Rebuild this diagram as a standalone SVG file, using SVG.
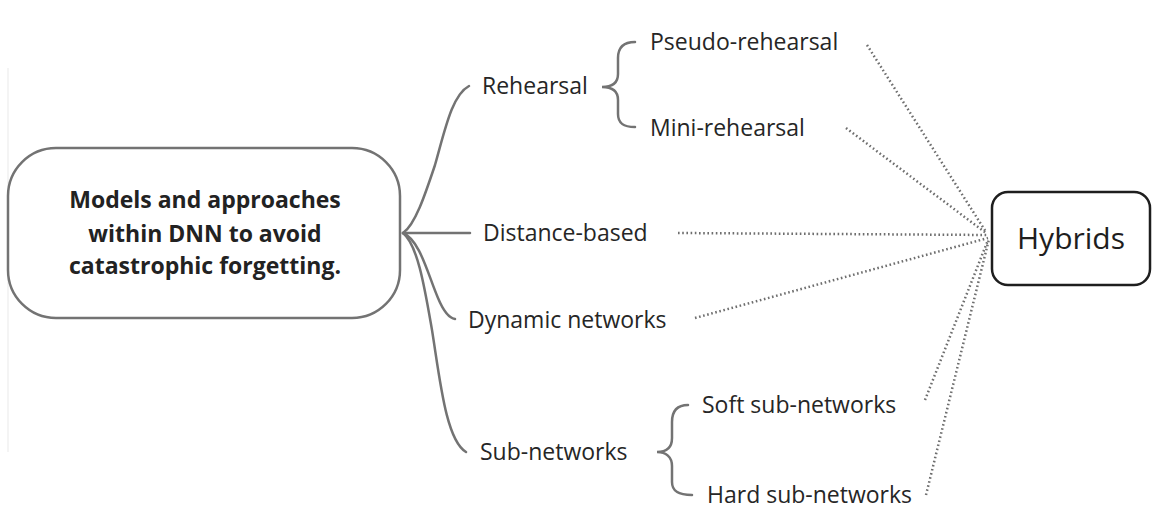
<svg xmlns="http://www.w3.org/2000/svg" width="1162" height="532" viewBox="0 0 1162 532">
<style>
.t{font-family:"Open Sans","Liberation Sans",sans-serif;font-size:23px;fill:#262626}
.b{font-family:"Open Sans","Liberation Sans",sans-serif;font-size:23px;font-weight:bold;fill:#222222;text-anchor:middle}
.h{font-family:"Open Sans","Liberation Sans",sans-serif;font-size:30px;fill:#1e1e1e;text-anchor:middle}
.s{fill:none;stroke:#737373;stroke-width:2.5;stroke-linecap:round}
.d{fill:none;stroke:#6e6e6e;stroke-width:2.5;stroke-dasharray:1.6 2.6}
</style>
<rect width="1162" height="532" fill="#ffffff"/>
<line x1="8" y1="68" x2="8" y2="452" stroke="#f0f0f0" stroke-width="1.5"/>
<g id="connectors">
<path class="s" d="M403,233 C415,225 425,195 435,165 C445,130 452,95 469,86"/>
<path class="s" d="M403,233 L470,233"/>
<path class="s" d="M403,233 C420,240 428,275 438,298 C443,310 448,318 455,319"/>
<path class="s" d="M403,233 C418,245 425,290 432,330 C440,380 446,440 466,452"/>
<path class="s" d="M635,42 C623,42 618,48 618,58 L618,74 C618,83 612,87 602,87 C612,87 618,91 618,100 L618,114 C618,123 623,127 635,127"/>
<path class="s" d="M688,405 C676,405 672,412 672,422 L672,438 C672,448 666,452 657,452 C666,452 672,457 672,466 L672,482 C672,491 678,495 692,495"/>
<path class="d" d="M867,45 L986,232"/>
<path class="d" d="M846,128 L986,233"/>
<path class="d" d="M678,233 L988,235"/>
<path class="d" d="M695,318 L988,238"/>
<path class="d" d="M925,400 L988,240"/>
<path class="d" d="M926,495 L989,239"/>
</g>
<g id="root">
<rect x="8" y="148" width="392" height="170" rx="48" ry="48" fill="#ffffff" stroke="#737373" stroke-width="2.5"/>
<text class="b" x="205" y="208">Models and approaches</text>
<text class="b" x="205" y="242">within DNN to avoid</text>
<text class="b" x="205" y="274">catastrophic forgetting.</text>
</g>
<g id="rehearsal"><text class="t" x="482" y="94">Rehearsal</text></g>
<g id="pseudo-rehearsal"><text class="t" x="650" y="50">Pseudo-rehearsal</text></g>
<g id="mini-rehearsal"><text class="t" x="650" y="136">Mini-rehearsal</text></g>
<g id="distance-based"><text class="t" x="483" y="241">Distance-based</text></g>
<g id="dynamic-networks"><text class="t" x="468" y="328">Dynamic networks</text></g>
<g id="sub-networks"><text class="t" x="480" y="460">Sub-networks</text></g>
<g id="soft-sub-networks"><text class="t" x="702" y="413">Soft sub-networks</text></g>
<g id="hard-sub-networks"><text class="t" x="707" y="503">Hard sub-networks</text></g>
<g id="hybrids">
<rect x="992" y="192" width="158" height="93" rx="16" ry="16" fill="#ffffff" stroke="#1e1e1e" stroke-width="2.5"/>
<text class="h" x="1071" y="249">Hybrids</text>
</g>
</svg>
